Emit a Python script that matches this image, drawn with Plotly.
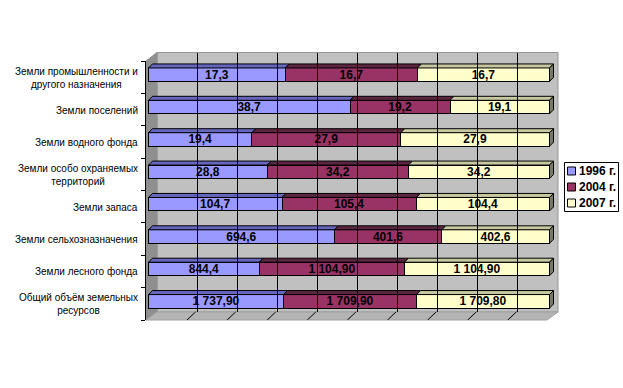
import plotly.graph_objects as go

categories = [
    "Земли промышленности и<br>другого назначения",
    "Земли поселений",
    "Земли водного фонда",
    "Земли особо охраняемых<br>территорий",
    "Земли запаса",
    "Земли сельхозназначения",
    "Земли лесного фонда",
    "Общий объём земельных<br>ресурсов",
]
series_names = ["1996 г.", "2004 г.", "2007 г."]
values_1996 = [17.3, 38.7, 19.4, 28.8, 104.7, 694.6, 844.4, 1737.90]
values_2004 = [16.7, 19.2, 27.9, 34.2, 105.4, 401.6, 1104.90, 1709.90]
values_2007 = [16.7, 19.1, 27.9, 34.2, 104.4, 402.6, 1104.90, 1709.80]
labels_1996 = ["17,3", "38,7", "19,4", "28,8", "104,7", "694,6", "844,4", "1 737,90"]
labels_2004 = ["16,7", "19,2", "27,9", "34,2", "105,4", "401,6", "1 104,90", "1 709,90"]
labels_2007 = ["16,7", "19,1", "27,9", "34,2", "104,4", "402,6", "1 104,90", "1 709,80"]
grid_ticks = [10, 20, 30, 40, 50, 60, 70, 80, 90]

front_colors = ["#9999FF", "#993366", "#FFFFCC"]
top_colors = ["#6666BF", "#5C2640", "#C8C8A0"]
cap_color = "#7A7A62"
W, H = 623, 388
FONT = "Liberation Sans"
PX_PER_PCT = 4.01
X0 = 148.5
X_L, X_R = 146, 556
Y_T, Y_B = 61, 320
BAND = (Y_B - Y_T) / 8
DEPTH_X, DEPTH_Y = 8.5, 8
BAR_W = 13.5 / BAND
BAR_SHIFT = -2.5 / BAND
TOP_DX, TOP_DY = 4 / PX_PER_PCT, 4 / BAND


def fx(px):
    return px / W


def fy(px):
    return 1 - px / H


def to_pct(px):
    return (px - X0) / PX_PER_PCT


def poly(points, color, line=None):
    path = "M" + " L".join(f"{fx(x)},{fy(y)}" for x, y in points) + " Z"
    return dict(type="path", xref="paper", yref="paper", path=path, fillcolor=color,
                line=dict(color=line or color, width=1), layer="below")


series = [values_1996, values_2004, values_2007]
labels = [labels_1996, labels_2004, labels_2007]
ypos = list(range(len(categories)))
fig = go.Figure()

for name, vals, txt, col in zip(series_names, series, labels, front_colors):
    fig.add_trace(go.Bar(
        y=ypos, x=vals, name=name, orientation="h", width=BAR_W,
        offset=BAR_SHIFT - BAR_W / 2, marker=dict(color=col, line=dict(color="black", width=1)),
        text=txt, textposition="inside", insidetextanchor="middle", textangle=0,
        constraintext="none", cliponaxis=False, showlegend=False, hoverinfo="skip",
        textfont=dict(family=FONT, size=12, color="black", weight="bold"),
    ))

# Depth faces, derived from each bar's normalised share
totals = [sum(t) for t in zip(*series)]
cum = [0.0] * len(categories)
for vals, top in zip(series, top_colors):
    xs, ys = [], []
    for i, v in enumerate(vals):
        a = cum[i]
        b = a + v / totals[i] * 100
        cum[i] = b
        yt = i + BAR_SHIFT - BAR_W / 2
        xs += [a, a + TOP_DX, b + TOP_DX, b, a, None]
        ys += [yt, yt - TOP_DY, yt - TOP_DY, yt, yt, None]
    fig.add_trace(go.Scatter(x=xs, y=ys, mode="lines", fill="toself", fillcolor=top,
                             line=dict(color="black", width=1), cliponaxis=False,
                             showlegend=False, hoverinfo="skip"))
xs, ys = [], []
for i in ypos:
    yt = i + BAR_SHIFT - BAR_W / 2
    yb = yt + BAR_W
    xs += [100, 100 + TOP_DX, 100 + TOP_DX, 100, 100, None]
    ys += [yt, yt - TOP_DY, yb - TOP_DY, yb, yt, None]
fig.add_trace(go.Scatter(x=xs, y=ys, mode="lines", fill="toself", fillcolor=cap_color,
                         line=dict(color="black", width=1), cliponaxis=False,
                         showlegend=False, hoverinfo="skip"))

# Floor ticks
xs, ys = [], []
for t in grid_ticks:
    xs += [t - 0.4, t - 0.4 + DEPTH_X / PX_PER_PCT, None]
    ys += [7.5, 7.5 - DEPTH_Y / BAND, None]
fig.add_trace(go.Scatter(x=xs, y=ys, mode="lines", line=dict(color="black", width=1),
                         cliponaxis=False, showlegend=False, hoverinfo="skip"))
# Back-wall axes need a trace to be laid out
fig.add_trace(go.Scatter(x=[0], y=[0], xaxis="x2", yaxis="y2", mode="markers",
                         marker=dict(opacity=0), showlegend=False, hoverinfo="skip"))

wall_l, wall_r, wall_t, wall_b = 157, 558, 52.5, 312
shapes = [
    poly([(wall_l, wall_t), (wall_r, wall_t), (wall_r, wall_b), (wall_l, wall_b)], "#C0C0C0", "#969696"),
    poly([(X_L, Y_T), (wall_l, wall_t), (wall_l, wall_b), (X_L, Y_B)], "#8F8F8F"),
    poly([(X_L, Y_B), (wall_l, wall_b), (wall_r, wall_b), (547, Y_B)], "#B4B4B4", "#A0A0A0"),
]

annotations = [
    dict(text=c, xref="paper", yref="y", x=fx(140), y=i, yshift=-0.5, xanchor="right", yanchor="middle",
         align="center", showarrow=False, font=dict(family=FONT, size=10, color="black"))
    for i, c in enumerate(categories)
]

# Compact legend box, matching the reference's small swatches
shapes.append(dict(type="rect", xref="paper", yref="paper", x0=fx(564.5), x1=fx(618.5),
                   y0=fy(211.5), y1=fy(162.5), fillcolor="white", line=dict(color="black", width=1)))
for k, (name, col) in enumerate(zip(series_names, front_colors)):
    yc = 171 + 16 * k
    shapes.append(dict(type="rect", xref="paper", yref="paper", x0=fx(567.5), x1=fx(575.5),
                       y0=fy(yc + 4), y1=fy(yc - 4), fillcolor=col, line=dict(color="black", width=1)))
    annotations.append(dict(text=name, xref="paper", yref="paper", x=fx(577), y=fy(yc),
                            xanchor="left", yanchor="middle", showarrow=False,
                            font=dict(family=FONT, size=12, color="black", weight="bold")))

fig.update_layout(
    width=W, height=H, margin=dict(l=0, r=0, t=0, b=0), autosize=False,
    paper_bgcolor="white", plot_bgcolor="rgba(0,0,0,0)",
    barmode="stack", barnorm="percent", showlegend=False,
    shapes=shapes, annotations=annotations,
    xaxis=dict(domain=[fx(X_L), fx(X_R)], range=[to_pct(X_L), to_pct(X_R)], showgrid=False,
               zeroline=False, showticklabels=False, ticks="", showline=False, fixedrange=True),
    yaxis=dict(domain=[fy(Y_B), fy(Y_T)], range=[7.5, -0.5], tickmode="array",
               tickvals=[i - 0.5 for i in range(9)], ticktext=[""] * 9, ticks="outside",
               ticklen=4, tickcolor="black", showline=True, linecolor="black", linewidth=1,
               showgrid=False, zeroline=False, fixedrange=True),
    xaxis2=dict(domain=[fx(X_L + DEPTH_X), fx(X_R + DEPTH_X)],
                range=[to_pct(X_L), to_pct(X_R)], anchor="y2", tickmode="array",
                tickvals=grid_ticks, showgrid=True, gridcolor="black", gridwidth=1,
                zeroline=False, showticklabels=False, ticks="", showline=False, fixedrange=True),
    yaxis2=dict(domain=[fy(wall_b), fy(wall_t)], range=[0, 1], anchor="x2", showgrid=False,
                zeroline=False, showticklabels=False, ticks="", showline=False, fixedrange=True),
)
fig.write_html("out.html", config={"displayModeBar": False},
               post_script="document.body.style.margin='0';document.documentElement.style.overflow='hidden';")
